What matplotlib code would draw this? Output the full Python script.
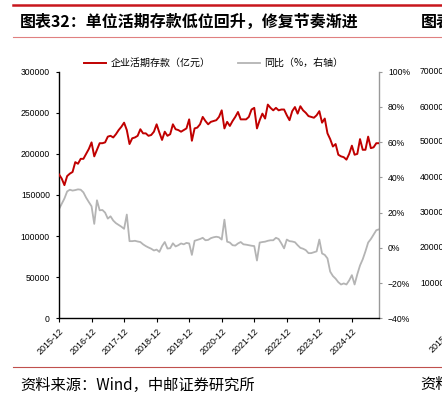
import numpy as np
import pandas as pd
import matplotlib
matplotlib.use('Agg')
import matplotlib.pyplot as plt
from matplotlib.lines import Line2D

plt.rcParams['font.family'] = ['Liberation Sans', 'Noto Sans CJK SC', 'DejaVu Sans']
plt.rcParams['axes.unicode_minus'] = True

# 月份：2015-12 至 2025-10
months = pd.date_range('2015-12-01', '2025-10-01', freq='MS').strftime('%Y-%m').tolist()

# 企业活期存款（亿元）
deposit = [
    175000, 170000, 162000, 173000, 176000, 178000, 190000, 188000, 194000, 194000, 200000, 206000,
    214000, 197000, 205000, 213000, 213000, 214000, 221000, 222000, 220000, 224000, 229000, 233000,
    238000, 229000, 212000, 219000, 220000, 222000, 230000, 225000, 225000, 222000, 223000, 227000,
    236000, 226000, 217000, 227000, 222000, 224000, 236000, 230000, 229000, 227000, 229000, 231000,
    242000, 216000, 231000, 232000, 236000, 245000, 240000, 236000, 239000, 240000, 241000, 245000,
    253000, 231000, 239000, 234000, 240000, 245000, 251000, 242000, 242000, 242000, 245000, 254000,
    256000, 231000, 241000, 249000, 243000, 260000, 256000, 253000, 256000, 253000, 254000, 254000,
    247000, 241000, 252000, 257000, 249000, 258000, 253000, 250000, 246000, 245000, 244000, 247000,
    252000, 238000, 243000, 225000, 218000, 209000, 212000, 199000, 197000, 196000, 193000, 200000,
    210000, 199000, 200000, 218000, 205000, 205000, 221000, 207000, 208000, 213000, 213000,
]

# 同比（%）
yoy = [
    22, 25, 28, 32, 33, 32.5, 32.8, 33.2, 33, 31.5, 28.5, 26,
    23.6, 13.6, 27, 21.3, 21.5, 20, 16.6, 17.9, 15.5, 14, 13, 12,
    10.8, 18.9, 3.8, 3.8, 4, 3.6, 3.3, 2, 1, 0.2, -0.5, -1.5,
    -1, -2.3, 1, 3.3, -0.4, -0.2, 2.6, 0.8, 1.5, 2.5, 2, 2.8,
    2.5, -4, 4, 4.5, 5, 5.7, 4.3, 4.5, 5.5, 6, 6.3, 6,
    4.7, 16, 3.5, 3, 1.5, 1.3, 2.5, 3.3, 2, 1.8, 1.5, 1.2,
    1, -7.2, 3, 3.3, 3.5, 4, 4.3, 4.3, 5.7, 5, 2.5, -0.3,
    4.7, 3.8, 3.6, 3.2, 1.5, 0, -0.5, -1.3, -3, -3, -2.5, -2,
    4.7, -3.2, -4, -6, -13.5, -16, -17.5, -19.5, -20.8, -20.2, -20.8, -18.5,
    -15.5, -20.8, -15, -10, -6.5, -2, 3, 5, 7.5, 10, 10.5,
]

left_ticks = [0, 50000, 100000, 150000, 200000, 250000, 300000]
right_ticks = [-40, -20, 0, 20, 40, 60, 80, 100]
side_ticks = ['70000', '60000', '50000', '40000', '30000', '20000', '10000']

x = np.arange(len(months))
red = '#C00000'
grey = '#B4B4B4'

fig = plt.figure(figsize=(4.42, 3.97), dpi=100)
W, H = 442, 397

def fx(px):
    return px / W

def fy(py):
    return 1 - py / H

# 顶部装饰线
fig.add_artist(Line2D([fx(13), 1], [fy(5), fy(5)], color='#C8161D', lw=1.8))
fig.add_artist(Line2D([fx(13), 1], [fy(37), fy(37)], color='#E08080', lw=0.8))
fig.add_artist(Line2D([fx(13), 1], [fy(367), fy(367)], color='#C0504D', lw=0.8))

fig.text(fx(20), fy(22), '图表32：单位活期存款低位回升，修复节奏渐进', fontsize=11.5,
         fontweight='bold', va='center', ha='left', family=['Noto Sans CJK SC', 'DejaVu Sans'])
fig.text(fx(421), fy(22), '图表', fontsize=11.5, fontweight='bold', va='center', ha='left',
         family=['Noto Sans CJK SC'])
fig.text(fx(20), fy(385), '资料来源：Wind，中邮证券研究所', fontsize=11, va='center', ha='left',
         family=['Noto Sans CJK SC', 'DejaVu Sans'])
fig.text(fx(420), fy(385), '资料', fontsize=11, va='center', ha='left', family=['Noto Sans CJK SC'])

ax = fig.add_axes([fx(59), fy(318.3), fx(379 - 59), (318.3 - 71.7) / H])
ax2 = ax.twinx()

l1, = ax.plot(x, deposit, color=red, lw=1.4, zorder=3)
l2, = ax2.plot(x, yoy, color=grey, lw=1.3, zorder=2)
ax.set_zorder(ax2.get_zorder() + 1)
ax.patch.set_visible(False)

ax.set_xlim(0, len(months) - 1)
ax.set_ylim(0, 300000)
ax.set_yticks(left_ticks)
ax.set_yticklabels([str(v) for v in left_ticks])
ax2.set_ylim(-40, 100)
ax2.set_yticks(right_ticks)
ax2.set_yticklabels([f'{v}%'.replace('-', '\u2212') for v in right_ticks])

xt = [i for i, m in enumerate(months) if m.endswith('-12')]
ax.set_xticks(xt)
ax.set_xticklabels([months[i] for i in xt], rotation=45, ha='right', va='top',
                   rotation_mode='anchor', fontsize=6.5)

ax.spines['top'].set_visible(False)
ax2.spines['top'].set_visible(False)
ax.spines['right'].set_visible(False)
ax2.spines['left'].set_visible(False)
ax2.spines['bottom'].set_visible(False)
ax.spines['left'].set_linewidth(1.0)
ax.spines['bottom'].set_linewidth(1.0)
ax2.spines['right'].set_color('#999999')
ax2.spines['right'].set_linewidth(1.0)

ax.tick_params(axis='y', labelsize=6.2, length=2.5, width=0.8, pad=4)
ax.tick_params(axis='x', labelsize=6.5, length=3, width=0.8, pad=3)
ax2.tick_params(axis='y', labelsize=6.2, length=2.5, width=0.8, pad=4, color='#999999')

ax2.legend([l1, l2], ['企业活期存款（亿元）', '同比（%，右轴）'], loc='center',
           bbox_to_anchor=(fx(214), fy(63)), bbox_transform=fig.transFigure, ncol=2,
           frameon=False, handlelength=2.2, handletextpad=0.4,
           columnspacing=2.8, prop={'family': ['Noto Sans CJK SC'], 'size': 7.2})

# 右侧相邻图表的残留刻度
side_y = [71.7, 107, 142, 177, 212.7, 248, 283]
for lab, py in zip(side_ticks, side_y):
    fig.text(fx(420), fy(py), lab, fontsize=6.2, va='center', ha='left')
fig.text(fx(451), fy(325), '2015-12', fontsize=6.5, rotation=45, ha='right', va='top',
         rotation_mode='anchor')

fig.savefig('out.png', dpi=100)
